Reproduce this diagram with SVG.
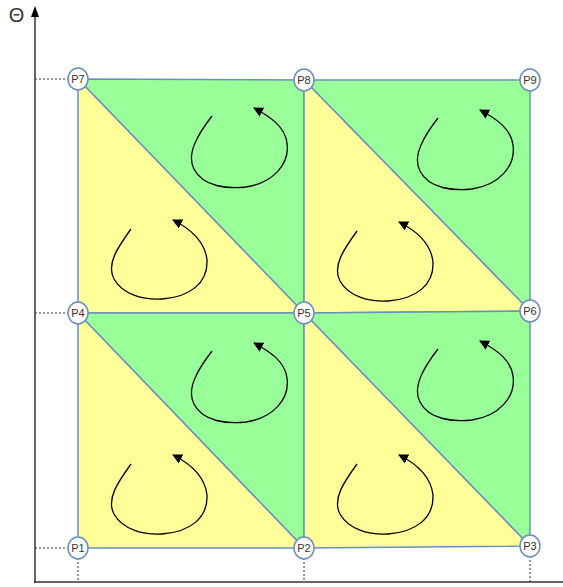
<svg xmlns="http://www.w3.org/2000/svg" xmlns:xlink="http://www.w3.org/1999/xlink" width="563" height="587" viewBox="0 0 563 587">
<style>
.g{fill:#99ff99;stroke:#6c8ebf;stroke-width:1.5;stroke-linejoin:round}
.y{fill:#ffff99;stroke:#6c8ebf;stroke-width:1.5;stroke-linejoin:round}
.dash{stroke:#333;stroke-width:1;stroke-dasharray:2 2;fill:none}
.ax{stroke:#333;stroke-width:1.5;fill:none}
.curl{fill:none;stroke:#000;stroke-width:1.3;marker-end:url(#ah)}
.node ellipse{fill:#fff;stroke:#6c8ebf;stroke-width:1.5}
.node text{font-family:"Liberation Sans",Arial,sans-serif;font-size:11px;fill:#333;text-anchor:middle;dominant-baseline:central}
</style>
<defs>
<marker id="ah" viewBox="0 0 10 10" refX="9" refY="5" markerWidth="10" markerHeight="10" markerUnits="userSpaceOnUse" orient="auto">
<path d="M0,0 L10,5 L0,10 Z" fill="#000"/>
</marker>
<path id="cg" d="M134,37 C120,55 108,75 116,90 C125,108 150,110 168,108 C195,104 212,85 209,64 C207,48 193,38 176,29"/>
<path id="cy" d="M53,150 C40,168 28,185 36,200 C45,216 66,221 84,220 C112,218 130,204 129,181 C127,163 113,150 95,141"/>
</defs>
<g id="axes">
<line class="ax" x1="35" y1="583" x2="35" y2="14"/>
<path d="M35,6 L39,17 L31,17 Z" fill="#000"/>
<line class="ax" x1="34" y1="582" x2="563" y2="582"/>
<text x="16.5" y="22" font-family="Liberation Sans,Arial,sans-serif" font-size="20" text-anchor="middle" fill="#333">Θ</text>
<line class="dash" x1="35" y1="79" x2="70" y2="79"/>
<line class="dash" x1="35" y1="313" x2="70" y2="313"/>
<line class="dash" x1="35" y1="548" x2="70" y2="548"/>
<line class="dash" x1="78" y1="558" x2="78" y2="582"/>
<line class="dash" x1="304" y1="558" x2="304" y2="582"/>
<line class="dash" x1="530" y1="556" x2="530" y2="582"/>
</g>
<g id="triangles">
<polygon class="g" points="78,79 304,80 304,313"/>
<polygon class="y" points="78,79 304,313 78,313"/>
<polygon class="g" points="304,80 530,80 530,311"/>
<polygon class="y" points="304,80 530,311 304,313"/>
<polygon class="g" points="78,313 304,313 304,548"/>
<polygon class="y" points="78,313 304,548 78,548"/>
<polygon class="g" points="304,313 530,311 530,546"/>
<polygon class="y" points="304,313 530,546 304,548"/>
</g>
<g id="connectors">
<use xlink:href="#cg" class="curl" x="78" y="79"/>
<use xlink:href="#cy" class="curl" x="78" y="79"/>
<use xlink:href="#cg" class="curl" x="304" y="81"/>
<use xlink:href="#cy" class="curl" x="304" y="81"/>
<use xlink:href="#cg" class="curl" x="78" y="314"/>
<use xlink:href="#cy" class="curl" x="78" y="314"/>
<use xlink:href="#cg" class="curl" x="304" y="312"/>
<use xlink:href="#cy" class="curl" x="304" y="314"/>
</g>
<g id="P7" class="node"><ellipse cx="78" cy="79" rx="10" ry="11"/><text x="78" y="79">P7</text></g>
<g id="P8" class="node"><ellipse cx="304" cy="80" rx="10" ry="11"/><text x="304" y="80">P8</text></g>
<g id="P9" class="node"><ellipse cx="530" cy="80" rx="10" ry="11"/><text x="530" y="80">P9</text></g>
<g id="P4" class="node"><ellipse cx="78" cy="313" rx="10" ry="11"/><text x="78" y="313">P4</text></g>
<g id="P5" class="node"><ellipse cx="304" cy="313" rx="10" ry="11"/><text x="304" y="313">P5</text></g>
<g id="P6" class="node"><ellipse cx="530" cy="311" rx="10" ry="11"/><text x="530" y="311">P6</text></g>
<g id="P1" class="node"><ellipse cx="78" cy="548" rx="10" ry="11"/><text x="78" y="548">P1</text></g>
<g id="P2" class="node"><ellipse cx="304" cy="548" rx="10" ry="11"/><text x="304" y="548">P2</text></g>
<g id="P3" class="node"><ellipse cx="530" cy="546" rx="10" ry="11"/><text x="530" y="546">P3</text></g>
</svg>
